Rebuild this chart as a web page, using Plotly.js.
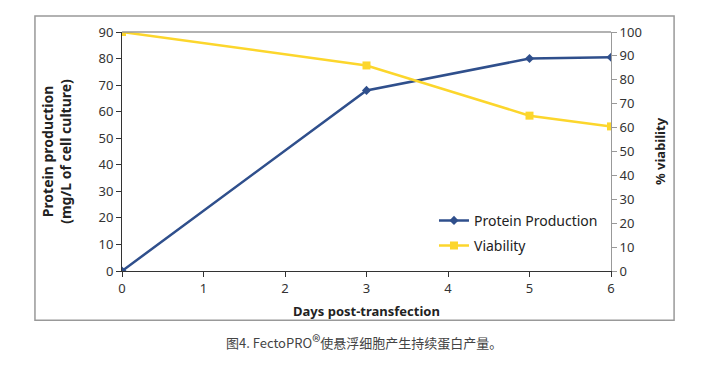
<!DOCTYPE html>
<html>
<head>
<meta charset="utf-8">
<script src="https://cdn.plot.ly/plotly-3.0.1.min.js"></script>
<style>html,body{margin:0;padding:0;background:#fff;}#chart{width:710px;height:366px;}</style>
</head>
<body>
<div id="chart"></div>
<script>
const days = [0, 3, 5, 6];
const proteinProduction = [0, 68, 80, 80.5];
const viability = [100, 86, 65, 60.5];
const xTicks = [0, 1, 2, 3, 4, 5, 6];
const leftTicks = [0, 10, 20, 30, 40, 50, 60, 70, 80, 90];
const rightTicks = [0, 10, 20, 30, 40, 50, 60, 70, 80, 90, 100];

const FONT = 'Noto Sans, Liberation Sans, sans-serif';
const BLUE = '#2f4f8c';
const YELLOW = '#fcd62c';

const traces = [
  {
    x: days, y: proteinProduction, name: 'Protein Production', type: 'scatter', mode: 'lines+markers',
    line: {color: BLUE, width: 2.5}, marker: {symbol: 'diamond', size: 7, color: BLUE},
    yaxis: 'y', legendgroup: 'a'
  },
  {
    x: days, y: viability, name: 'Viability', type: 'scatter', mode: 'lines+markers',
    line: {color: YELLOW, width: 2.5}, marker: {symbol: 'square', size: 8, color: YELLOW},
    yaxis: 'y2', legendgroup: 'b'
  }
];

const layout = {
  width: 710, height: 366,
  margin: {l: 122, r: 99, t: 32, b: 95},
  paper_bgcolor: '#ffffff', plot_bgcolor: '#ffffff',
  font: {family: FONT, size: 13, color: '#333'},
  showlegend: true,
  legend: {x: 0.638, y: 0.277, xanchor: 'left', yanchor: 'top', bgcolor: 'rgba(0,0,0,0)',
           font: {family: FONT, size: 14, color: '#222'}, tracegroupgap: 4, itemwidth: 30},
  xaxis: {
    range: [0, 6], tickvals: xTicks, ticktext: xTicks.map(String),
    showgrid: false, zeroline: false, showline: true, linecolor: '#333', linewidth: 1,
    ticks: 'outside', ticklen: 5, tickcolor: '#333',
    tickfont: {family: FONT, size: 13, color: '#333'},
    title: {text: '<b>Days post-transfection</b>', font: {family: FONT, size: 13, color: '#222'}, standoff: 11}
  },
  yaxis: {
    range: [0, 90], tickvals: leftTicks, ticktext: leftTicks.map(String),
    showgrid: false, zeroline: false, showline: true, linecolor: '#333', linewidth: 1,
    ticks: 'outside', ticklen: 5, tickcolor: '#333',
    tickfont: {family: FONT, size: 13, color: '#333'},
    title: {text: '<b>Protein production<br>(mg/L of cell culture)</b>', font: {family: FONT, size: 14, color: '#222'}, standoff: 23}
  },
  yaxis2: {
    range: [0, 100], tickvals: rightTicks, ticktext: rightTicks.map(String),
    overlaying: 'y', side: 'right',
    showgrid: false, zeroline: false, showline: true, linecolor: '#999', linewidth: 1,
    ticks: 'outside', ticklen: 5, tickcolor: '#999',
    tickfont: {family: FONT, size: 13, color: '#333'},
    title: {text: '<b>% viability</b>', font: {family: FONT, size: 13, color: '#222'}, standoff: 14}
  },
  shapes: [
    {type: 'line', xref: 'paper', yref: 'paper', x0: 0, x1: 1, y0: 1, y1: 1, line: {color: '#999', width: 1.5}},
    {type: 'rect', xref: 'paper', yref: 'paper', x0: -0.178, x1: 1.129, y0: -0.2065, y1: 1.067,
     line: {color: '#999', width: 1.5}, fillcolor: 'rgba(0,0,0,0)', layer: 'below'}
  ],
  annotations: [
    {text: '图4. FectoPRO<span style="font-size:17px">®</span>使悬浮细胞产生持续蛋白产量。', xref: 'paper', yref: 'paper',
     x: 0.209, y: -0.29, xanchor: 'left', yanchor: 'middle', showarrow: false,
     font: {family: 'Noto Sans CJK SC, sans-serif', size: 13, color: '#444'}}
  ]
};

Plotly.newPlot('chart', traces, layout, {displayModeBar: false, staticPlot: true});
</script>
</body>
</html>
